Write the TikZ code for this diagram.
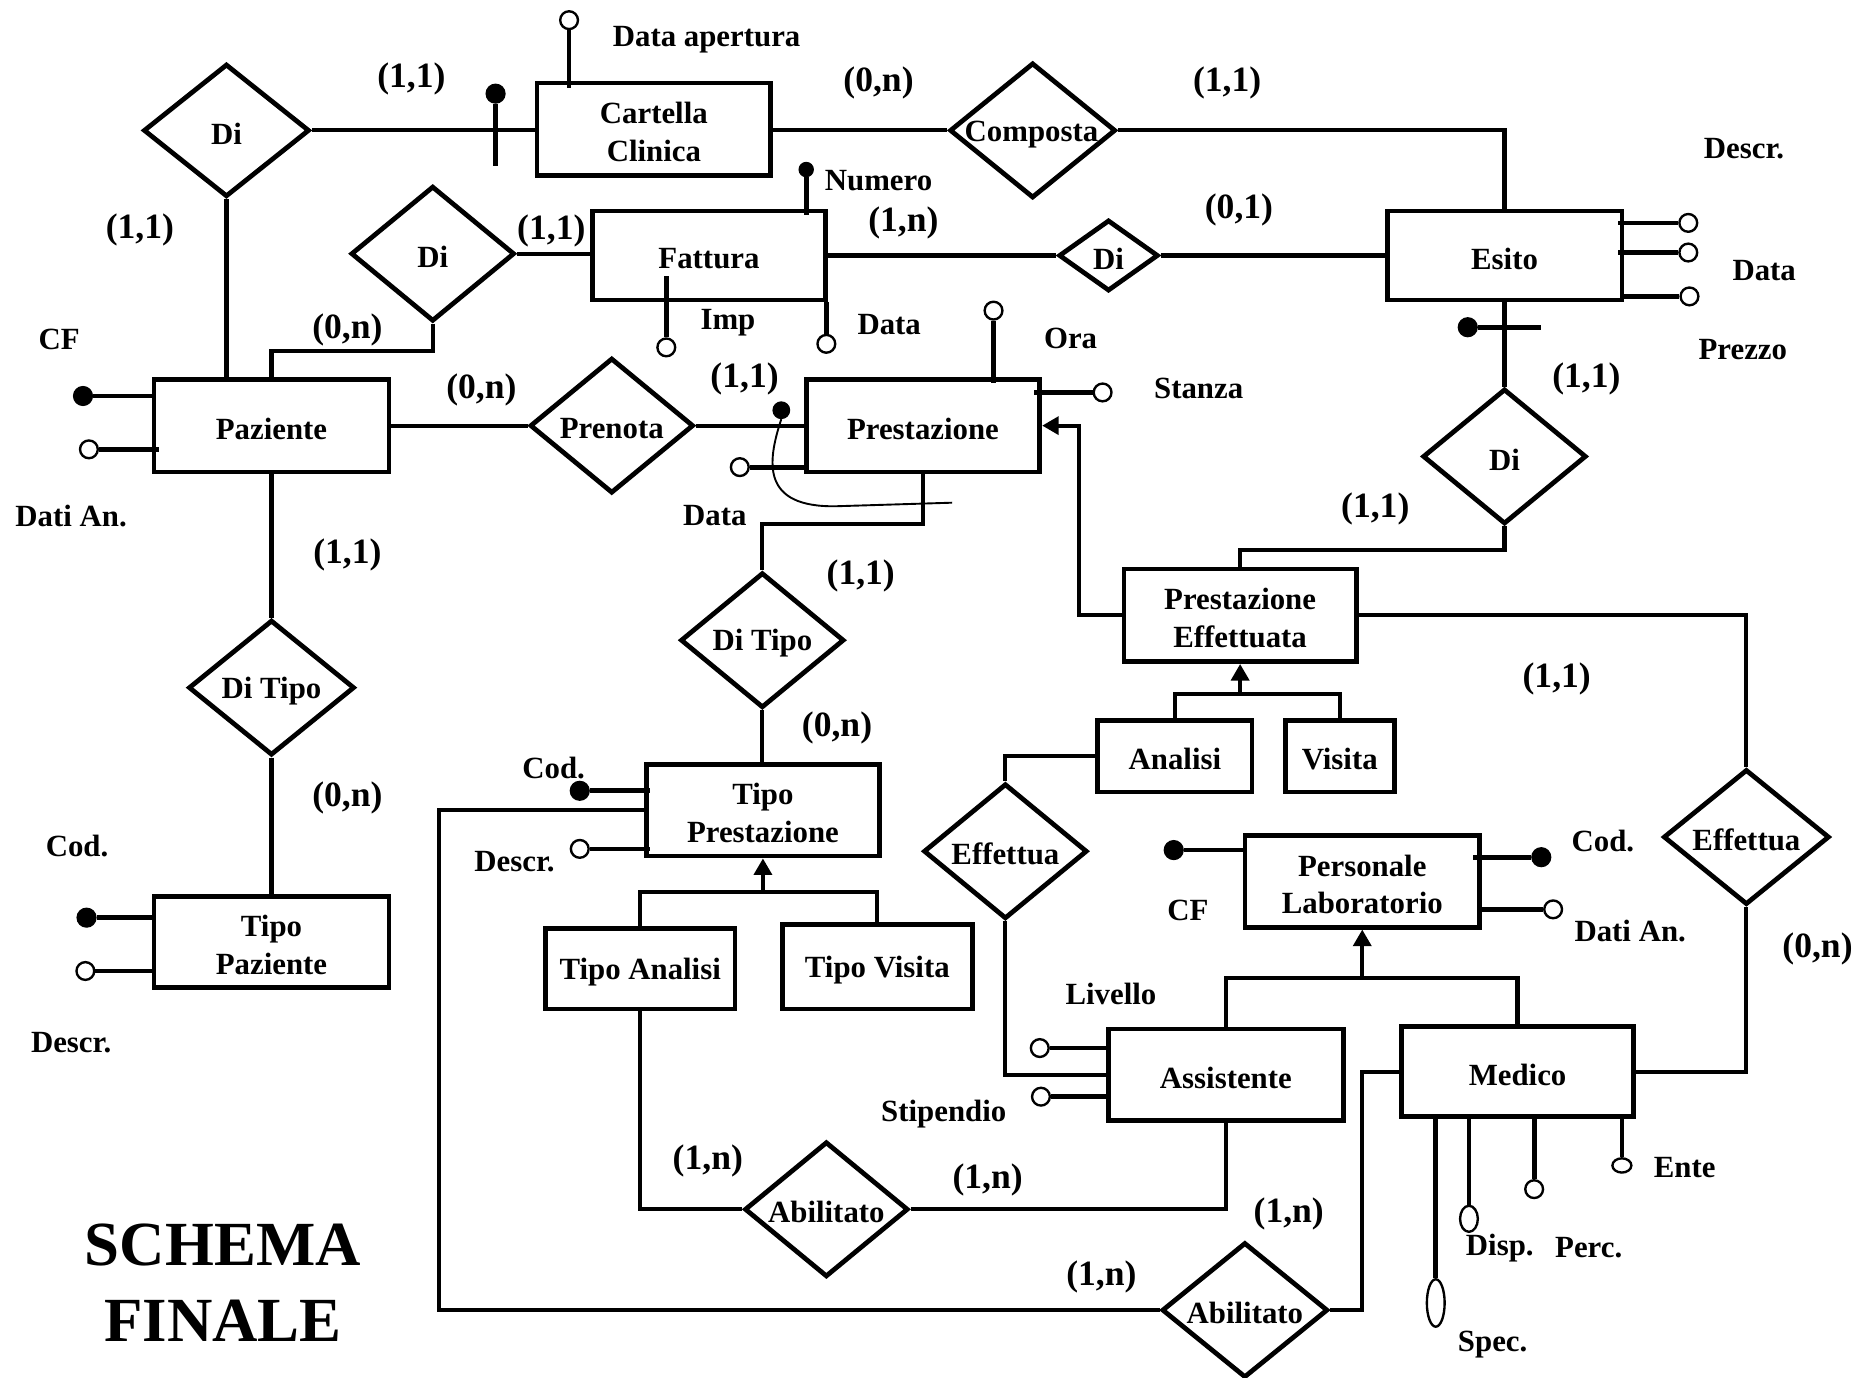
\documentclass[tikz,border=0pt]{standalone}
\usepackage{fontspec}
\setmainfont{Liberation Serif}
\usetikzlibrary{shapes.geometric,arrows.meta,calc}
\tikzset{
  ent/.style={draw, rectangle, line width=4pt, inner sep=0pt},
  rel/.style={draw, diamond, line width=4pt, inner sep=0pt},
  conn/.style={line width=3.5pt},
  attl/.style={line width=4pt},
  ao/.style={draw, circle, line width=2pt, fill=white, minimum size=15pt, inner sep=0pt},
  af/.style={draw, circle, fill=black, line width=1pt, minimum size=16pt, inner sep=0pt},
  aoe/.style={draw, ellipse, line width=2pt, fill=white, inner sep=0pt},
  txt/.style={font=\bfseries\fontsize{26}{32}\selectfont, inner sep=0pt, align=center, yshift=-2.5pt},
  card/.style={font=\bfseries\fontsize{30}{32}\selectfont, inner sep=0pt, yshift=-2pt},
  isa/.style={line width=3.5pt, -{Triangle[width=15pt,length=14pt]}},
}
\begin{document}
\begin{tikzpicture}[x=1pt,y=-1pt]
\useasboundingbox (0,0) rectangle (1568,1162);

% ---------------- entities
\node[ent, minimum width=197pt, minimum height=78pt] (cart) at (551.5,109) {};
\node[txt] (cartt) at (cart) {Cartella\\Clinica};
\node[ent, minimum width=196pt, minimum height=75pt] (fatt) at (598,215.5) {};
\node[txt] (fattt) at (fatt) {Fattura};
\node[ent, minimum width=198pt, minimum height=75pt] (esito) at (1269,215.5) {};
\node[txt] (esitot) at (esito) {Esito};
\node[ent, minimum width=198pt, minimum height=78pt] (paz) at (229,359) {};
\node[txt] (pazt) at (paz) {Paziente};
\node[ent, minimum width=197pt, minimum height=78pt] (prest) at (778.5,359) {};
\node[txt] (prestt) at (prest) {Prestazione};
\node[ent, minimum width=198pt, minimum height=77pt] (tpaz) at (229,794.5) {};
\node[txt] (tpazt) at (tpaz) {Tipo\\Paziente};
\node[ent, minimum width=197pt, minimum height=77pt] (tprest) at (643.5,683.5) {};
\node[txt] (tprestt) at (tprest) {Tipo\\Prestazione};
\node[ent, minimum width=160pt, minimum height=68pt] (tan) at (540,817) {};
\node[txt] (tant) at (tan) {Tipo Analisi};
\node[ent, minimum width=160pt, minimum height=71pt] (tvis) at (740,815.5) {};
\node[txt] (tvist) at (tvis) {Tipo Visita};
\node[ent, minimum width=196pt, minimum height=78pt] (peff) at (1046,519) {};
\node[txt] (pefft) at (peff) {Prestazione\\Effettuata};
\node[ent, minimum width=130pt, minimum height=60pt] (anal) at (991,638) {};
\node[txt] (analt) at (anal) {Analisi};
\node[ent, minimum width=92pt, minimum height=60pt] (vis) at (1130,638) {};
\node[txt] (vist) at (vis) {Visita};
\node[ent, minimum width=198pt, minimum height=77pt] (perl) at (1149,743.5) {};
\node[txt] (perlt) at (perl) {Personale\\Laboratorio};
\node[ent, minimum width=198pt, minimum height=77pt] (assi) at (1034,906.5) {};
\node[txt] (assit) at (assi) {Assistente};
\node[ent, minimum width=196pt, minimum height=76pt] (med) at (1280,904) {};
\node[txt] (medt) at (med) {Medico};

% ---------------- relationships
\node[rel, minimum width=140pt, minimum height=112pt] (di1) at (191,110) {};
\node[txt] (di1t) at (di1) {Di};
\node[rel, minimum width=140pt, minimum height=114pt] (comp) at (871,110) {};
\node[txt] (compt) at (870,111) {Composta};
\node[rel, minimum width=138pt, minimum height=114pt] (di2) at (365,214) {};
\node[txt] (di2t) at (di2) {Di};
\node[rel, minimum width=84pt, minimum height=60pt] (di3) at (935,215.5) {};
\node[txt] (di3t) at (di3) {Di};
\node[rel, minimum width=138pt, minimum height=114pt] (di4) at (1269,385) {};
\node[txt] (di4t) at (di4) {Di};
\node[rel, minimum width=138pt, minimum height=114pt] (pren) at (516,359) {};
\node[txt] (prent) at (pren) {Prenota};
\node[rel, minimum width=140pt, minimum height=114pt] (dt1) at (229,580) {};
\node[txt] (dt1t) at (dt1) {Di Tipo};
\node[rel, minimum width=138pt, minimum height=114pt] (dt2) at (643,540) {};
\node[txt] (dt2t) at (dt2) {Di Tipo};
\node[rel, minimum width=138pt, minimum height=114pt] (abil1) at (697,1020) {};
\node[txt] (abil1t) at (abil1) {Abilitato};
\node[rel, minimum width=140pt, minimum height=114pt] (abil2) at (1050,1105) {};
\node[txt] (abil2t) at (abil2) {Abilitato};
\node[rel, minimum width=138pt, minimum height=114pt] (eff1) at (848,718) {};
\node[txt] (eff1t) at (eff1) {Effettua};
\node[rel, minimum width=140pt, minimum height=114pt] (eff2) at (1473,706) {};
\node[txt] (eff2t) at (eff2) {Effettua};

% ---------------- connectors
\draw[conn] (di1.east) -- (di1.east -| cart.west);
\draw[conn] (di1.south) -- (di1.south |- paz.north);
\draw[conn] (cart.east |- comp.west) -- (comp.west);
\draw[conn] (comp.east) -| (esito.north);
\draw[conn] (di2.east) -- (di2.east -| fatt.west);
\draw[conn] (di2.south) -- ++(0,23) -| (paz.north);
\draw[conn] (fatt.east |- di3.west) -- (di3.west);
\draw[conn] (di3.east) -- (di3.east -| esito.west);
\draw[conn] (esito.south) -- (di4.north);
\draw[conn] (di4.south) -- ++(0,20) -| (peff.north);
\draw[conn] (paz.east) -- (pren.west);
\draw[conn] (pren.east) -- (prest.west);
\draw[conn] (paz.south) -- (dt1.north);
\draw[conn] (dt1.south) -- (tpaz.north);
\draw[conn] (prest.south) -- ++(0,42) -| (dt2.north);
\draw[conn] (dt2.south) -- (dt2.south |- tprest.north);
\draw[conn] (tprest.west) -- ++(-173,0) |- (abil2.west);
\draw[conn] (tan.south) |- (abil1.west);
\draw[conn] (abil1.east) -| (assi.south);
\draw[conn] (peff.east) -| (eff2.north);
\draw[conn] (anal.west) -| (eff1.north);
\draw[conn] (eff1.south) |- (assi.west);
\draw[conn] (med.east) -| (eff2.south);
\draw[conn] (med.west) -- ++(-31,0) |- (abil2.east);

% ISA hierarchies
\coordinate (isa1) at (643.5,752);
\draw[conn] (tan.north) |- (isa1) -| (tvis.north);
\draw[isa] (isa1) -- (tprest.south);
\coordinate (isa2) at (1046,585);
\draw[conn] (anal.north) |- (isa2) -| (vis.north);
\draw[isa] (isa2) -- (peff.south);
\coordinate (isa3) at (1149,825);
\draw[conn] (assi.north) |- (isa3) -| (med.north);
\draw[isa] (isa3) -- (perl.south);
\draw[isa] (peff.west) -- ++(-36,0) |- (prest.east);

% ---------------- attributes
% Cartella
\node[ao] (aDA) at (480,17) {};
\draw[attl] (aDA.south) -- ($(aDA |- cart.north)+(0,6)$);
\node[af] (cId) at (418,79) {};
\coordinate (cBar) at (418,140);
\draw[attl] (cId.south) -- (cBar);
% Fattura
\node[af, minimum size=12pt] (aNum) at (680,143) {};
\draw[attl] (aNum) -- ($(aNum |- fatt.north)+(0,5)$);
\node[ao] (aImp) at (562,293) {};
\draw[attl] (aImp.north) -- ($(aImp |- fatt.center)+(0,17)$);
\node[ao] (aFD) at (697,290) {};
\draw[attl] (aFD.north) -- (aFD |- fatt.south);
% Esito
\node[ao] (aE1) at (1424,188) {};
\node[ao] (aE2) at (1424,213) {};
\node[ao] (aE3) at (1425,250) {};
\draw[attl] (aE1.west) -- ($(aE1 -| esito.east)+(-5,0)$);
\draw[attl] (aE2.west) -- ($(aE2 -| esito.east)+(-5,0)$);
\draw[attl] (aE3.west) -- (aE3 -| esito.east);
\node[af] (eId) at (1238,276) {};
\coordinate (eBar) at (1300,276);
\draw[attl] (eId.east) -- (eBar);
% Paziente
\node[af] (pCF) at (70,334) {};
\draw[attl] (pCF.east) -- (pCF -| paz.west);
\node[ao] (pDA) at (75,379) {};
\draw[attl] (pDA.east) -- ($(pDA -| paz.west)+(6,0)$);
% Tipo Paziente
\node[af] (tpC) at (73,774) {};
\draw[attl] (tpC.east) -- (tpC -| tpaz.west);
\node[ao] (tpD) at (72,819) {};
\draw[attl] (tpD.east) -- (tpD -| tpaz.west);
% Prestazione
\node[ao] (aOra) at (838,262) {};
\draw[attl] (aOra.south) -- ($(aOra |- prest.north)+(0,5)$);
\node[ao] (aSt) at (930,331) {};
\draw[attl] (aSt.west) -- ($(aSt -| prest.east)+(-7,0)$);
\node[ao] (aPD) at (624,394) {};
\draw[attl] (aPD.east) -- ($(aPD -| prest.west)+(3,0)$);
\node[af, minimum size=14pt] (prId) at (659,346) {};
\coordinate (prIdEnd) at (803,424);
\draw[line width=1.6pt] (prId.south) .. controls (647,390) and (642,428) .. (705,427) -- (prIdEnd);
% Tipo Prestazione
\node[af] (tprC) at (489,667) {};
\draw[attl] (tprC.east) -- ($(tprC -| tprest.west)+(5,0)$);
\node[ao] (tprD) at (489,716) {};
\draw[attl] (tprD.east) -- ($(tprD -| tprest.west)+(5,0)$);
% Personale Laboratorio
\node[af] (plCF) at (990,717) {};
\draw[attl] (plCF.east) -- (plCF -| perl.west);
\node[af] (plC) at (1300,723) {};
\draw[attl] (plC.west) -- ($(plC -| perl.east)+(-8,0)$);
\node[ao] (plD) at (1310,767) {};
\draw[attl] (plD.west) -- (plD -| perl.east);
% Assistente
\node[ao] (asL) at (877,884) {};
\draw[attl] (asL.east) -- (asL -| assi.west);
\node[ao] (asS) at (878,925) {};
\draw[attl] (asS.east) -- (asS -| assi.west);
% Medico
\node[aoe, minimum width=15pt, minimum height=40pt] (mSp) at (1211,1099) {};
\draw[attl] (mSp.north) -- (mSp |- med.south);
\node[aoe, minimum width=15pt, minimum height=22pt] (mDi) at (1239,1028) {};
\draw[attl] (mDi.north) -- (mDi |- med.south);
\node[ao] (mPe) at (1294,1003) {};
\draw[attl] (mPe.north) -- (mPe |- med.south);
\node[aoe, minimum width=16pt, minimum height=12pt] (mEn) at (1368,983) {};
\draw[attl] (mEn.north) -- (mEn |- med.south);

% ---------------- attribute labels
\node[txt] (lDA) at (596,31) {Data apertura};
\node[txt] (lNum) at (741,150) {Numero};
\node[txt] (lImp) at (614,270) {Imp};
\node[txt] (lFD) at (750,271) {Data};
\node[txt] (lED) at (1471,123) {Descr.};
\node[txt] (lEDa) at (1488,226) {Data};
\node[txt] (lEP) at (1470,292) {Prezzo};
\node[txt] (lCF) at (50,284) {CF};
\node[txt] (lDAn) at (60,433) {Dati An.};
\node[txt] (lTC) at (65,711) {Cod.};
\node[txt] (lTD) at (60,877) {Descr.};
\node[txt] (lOra) at (903,283) {Ora};
\node[txt] (lSt) at (1011,325) {Stanza};
\node[txt] (lPD) at (603,432) {Data};
\node[txt] (lTPC) at (467,645) {Cod.};
\node[txt] (lTPD) at (434,724) {Descr.};
\node[txt] (lPCF) at (1002,765) {CF};
\node[txt] (lPC) at (1352,707) {Cod.};
\node[txt] (lPD2) at (1375,783) {Dati An.};
\node[txt] (lLiv) at (937,836) {Livello};
\node[txt] (lSti) at (796,937) {Stipendio};
\node[txt] (lSpec) at (1259,1132) {Spec.};
\node[txt] (lDisp) at (1265,1050) {Disp.};
\node[txt] (lPerc) at (1340,1050) {Perc.};
\node[txt] (lEnte) at (1421,982) {Ente};

% ---------------- cardinalities
\node[card] (c1) at (347,65) {(1,1)};
\node[card] (c2) at (741,68) {(0,n)};
\node[card] (c3) at (1035,68) {(1,1)};
\node[card] (c4) at (118,192) {(1,1)};
\node[card] (c5) at (465,193) {(1,1)};
\node[card] (c6) at (762,186) {(1,n)};
\node[card] (c7) at (1045,175) {(0,1)};
\node[card] (c8) at (293,276) {(0,n)};
\node[card] (c9) at (406,327) {(0,n)};
\node[card] (c10) at (628,318) {(1,1)};
\node[card] (c11) at (1338,318) {(1,1)};
\node[card] (c12) at (1160,427) {(1,1)};
\node[card] (c13) at (293,466) {(1,1)};
\node[card] (c14) at (726,484) {(1,1)};
\node[card] (c15) at (1313,571) {(1,1)};
\node[card] (c16) at (706,612) {(0,n)};
\node[card] (c17) at (293,671) {(0,n)};
\node[card] (c18) at (1533,798) {(0,n)};
\node[card] (c19) at (597,977) {(1,n)};
\node[card] (c20) at (833,993) {(1,n)};
\node[card] (c21) at (1087,1022) {(1,n)};
\node[card] (c22) at (929,1075) {(1,n)};

% ---------------- title
\node[font=\bfseries\fontsize{53}{64}\selectfont, align=center, inner sep=0pt] (title) at (188,1082) {SCHEMA\\FINALE};
\end{tikzpicture}
\end{document}
